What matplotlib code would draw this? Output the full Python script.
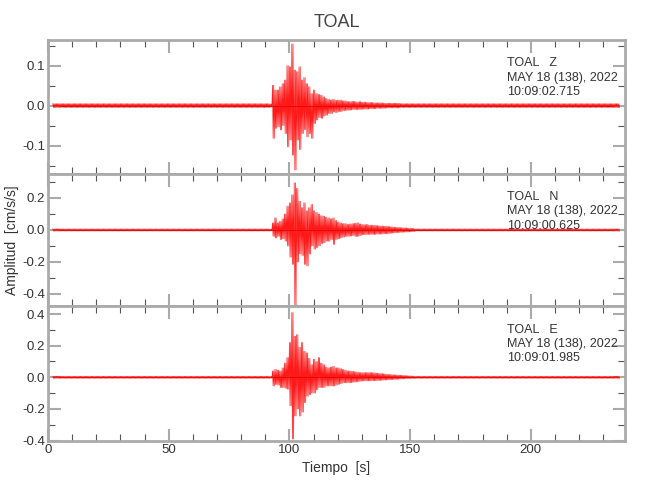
import numpy as np
import matplotlib
matplotlib.use('Agg')
import matplotlib.pyplot as plt
from matplotlib.ticker import MultipleLocator

plt.rcParams['font.family'] = ['Liberation Sans', 'DejaVu Sans']

station = 'TOAL'
components = ['Z', 'N', 'E']
date_txt = 'MAY 18 (138), 2022'
start_times = ['10:09:02.715', '10:09:00.625', '10:09:01.985']

# trace length in seconds, background noise level per component
t_first, t_last = 2, 237
noise = [0.005, 0.007, 0.007]

# per-second max / min, from t = 92 s to 151 s
env_t0 = 92
z_hi = [0.004, 0.051, 0.039, 0.039, 0.047, 0.055, 0.064, 0.100, 0.097, 0.154,
        0.089, 0.085, 0.097, 0.064, 0.070, 0.055, 0.047, 0.030, 0.039, 0.030,
        0.028, 0.026, 0.022, 0.018, 0.016, 0.014, 0.016, 0.013, 0.014, 0.014,
        0.012, 0.012, 0.010, 0.010, 0.011, 0.010, 0.009, 0.010, 0.009, 0.009,
        0.008, 0.008, 0.008, 0.007, 0.007, 0.007, 0.007, 0.006, 0.006, 0.006,
        0.006, 0.006, 0.006, 0.006, 0.005, 0.005, 0.005, 0.005, 0.005, 0.005]
z_lo = [-0.004, -0.082, -0.057, -0.053, -0.061, -0.050, -0.070, -0.103, -0.086, -0.124,
        -0.161, -0.086, -0.110, -0.070, -0.060, -0.078, -0.070, -0.082, -0.045, -0.036,
        -0.030, -0.032, -0.026, -0.024, -0.020, -0.020, -0.016, -0.018, -0.015, -0.015,
        -0.013, -0.012, -0.012, -0.011, -0.010, -0.010, -0.010, -0.010, -0.009, -0.009,
        -0.009, -0.008, -0.008, -0.008, -0.007, -0.007, -0.007, -0.007, -0.006, -0.006,
        -0.006, -0.006, -0.006, -0.006, -0.005, -0.005, -0.005, -0.005, -0.005, -0.005]
n_hi = [0.006, 0.045, 0.076, 0.045, 0.055, 0.070, 0.100, 0.150, 0.170, 0.220,
        0.295, 0.260, 0.180, 0.140, 0.170, 0.120, 0.140, 0.160, 0.120, 0.110,
        0.100, 0.090, 0.086, 0.080, 0.076, 0.070, 0.076, 0.060, 0.050, 0.045,
        0.040, 0.040, 0.035, 0.038, 0.040, 0.042, 0.045, 0.038, 0.035, 0.033,
        0.035, 0.030, 0.030, 0.030, 0.028, 0.026, 0.025, 0.024, 0.024, 0.022,
        0.020, 0.018, 0.017, 0.016, 0.015, 0.014, 0.013, 0.012, 0.011, 0.010]
n_lo = [-0.006, -0.040, -0.050, -0.040, -0.060, -0.055, -0.070, -0.100, -0.170, -0.215,
        -0.475, -0.200, -0.150, -0.160, -0.215, -0.225, -0.150, -0.100, -0.120, -0.110,
        -0.100, -0.085, -0.080, -0.070, -0.070, -0.060, -0.090, -0.060, -0.055, -0.050,
        -0.045, -0.040, -0.040, -0.038, -0.035, -0.040, -0.040, -0.035, -0.030, -0.030,
        -0.028, -0.028, -0.028, -0.028, -0.026, -0.026, -0.025, -0.024, -0.024, -0.022,
        -0.020, -0.018, -0.017, -0.016, -0.015, -0.014, -0.013, -0.012, -0.011, -0.010]
e_hi = [0.006, 0.040, 0.050, 0.045, 0.040, 0.060, 0.090, 0.125, 0.220, 0.410,
        0.260, 0.270, 0.190, 0.220, 0.165, 0.155, 0.120, 0.080, 0.115, 0.100,
        0.125, 0.090, 0.080, 0.065, 0.060, 0.065, 0.070, 0.060, 0.060, 0.055,
        0.050, 0.045, 0.040, 0.040, 0.038, 0.035, 0.033, 0.030, 0.030, 0.030,
        0.030, 0.030, 0.030, 0.028, 0.026, 0.025, 0.024, 0.022, 0.020, 0.018,
        0.017, 0.016, 0.015, 0.014, 0.013, 0.012, 0.011, 0.010, 0.009, 0.008]
e_lo = [-0.006, -0.055, -0.045, -0.050, -0.065, -0.065, -0.070, -0.076, -0.180, -0.390,
        -0.245, -0.200, -0.245, -0.220, -0.160, -0.120, -0.110, -0.100, -0.100, -0.080,
        -0.065, -0.065, -0.065, -0.055, -0.055, -0.055, -0.055, -0.050, -0.045, -0.040,
        -0.035, -0.035, -0.035, -0.035, -0.032, -0.030, -0.028, -0.025, -0.023, -0.023,
        -0.023, -0.023, -0.022, -0.022, -0.021, -0.020, -0.019, -0.018, -0.017, -0.016,
        -0.015, -0.014, -0.013, -0.012, -0.011, -0.010, -0.009, -0.008, -0.008, -0.008]

envelopes = [(z_hi, z_lo), (n_hi, n_lo), (e_hi, e_lo)]
ylims = [(-0.171, 0.164), (-0.475, 0.35), (-0.403, 0.451)]
ymajor = [0.1, 0.2, 0.2]
yminor = [0.05, 0.1, 0.1]

frame_col = '#aaaaaa'
txt_col = '#333333'

fig = plt.figure(figsize=(6.5, 5), dpi=100)
boxes = [(0.0738, 0.652, 0.8877, 0.268),
         (0.0738, 0.388, 0.8877, 0.264),
         (0.0738, 0.118, 0.8877, 0.270)]

for i in range(3):
    ax = fig.add_axes(boxes[i])
    hi, lo = envelopes[i]
    sec = np.arange(t_first, t_last)
    y_hi = np.full(len(sec), noise[i])
    y_lo = np.full(len(sec), -noise[i])
    k = env_t0 - t_first
    y_hi[k:k + len(hi)] = hi
    y_lo[k:k + len(lo)] = lo
    # each second drawn as two up/down swings between its max and min
    xs = np.column_stack([sec, sec + 0.25, sec + 0.5, sec + 0.75]).ravel()
    ys = np.column_stack([y_hi, y_lo, y_hi, y_lo]).ravel()

    ax.axhline(0, color='black', lw=0.5, zorder=1)
    ax.plot(xs, ys, color='red', lw=0.5, alpha=0.9, zorder=2)

    ax.set_xlim(0, 239)
    ax.set_ylim(*ylims[i])
    ax.xaxis.set_major_locator(MultipleLocator(50))
    ax.xaxis.set_minor_locator(MultipleLocator(10))
    ax.yaxis.set_major_locator(MultipleLocator(ymajor[i]))
    ax.yaxis.set_minor_locator(MultipleLocator(yminor[i]))
    ax.tick_params(which='major', direction='in', length=9, width=1.5, color=frame_col,
                   top=True, right=True, labelsize=9.5, labelcolor=txt_col, pad=2)
    ax.tick_params(which='minor', direction='in', length=5, width=0.8, color='#555555',
                   top=True, right=True)
    ax.yaxis.set_major_formatter(plt.FuncFormatter(lambda v, p: '%.1f' % v))
    if i < 2:
        ax.tick_params(labelbottom=False)
    for s in ax.spines.values():
        s.set_color(frame_col)
        s.set_linewidth(2)

    ax.text(0.795, 0.87, '%s   %s\n%s\n%s' % (station, components[i], date_txt, start_times[i]),
            transform=ax.transAxes, ha='left', va='top', fontsize=9,
            color=txt_col, linespacing=1.25)

    if i == 2:
        ax.set_xlabel('Tiempo  [s]', fontsize=10, color=txt_col, labelpad=4)

fig.text(0.5177, 0.955, station, ha='center', va='center', fontsize=13, color='#444444')
fig.text(0.018, 0.52, 'Amplitud  [cm/s/s]', rotation=90, ha='center', va='center',
         fontsize=10, color=txt_col)

fig.savefig('out.png', dpi=100)
